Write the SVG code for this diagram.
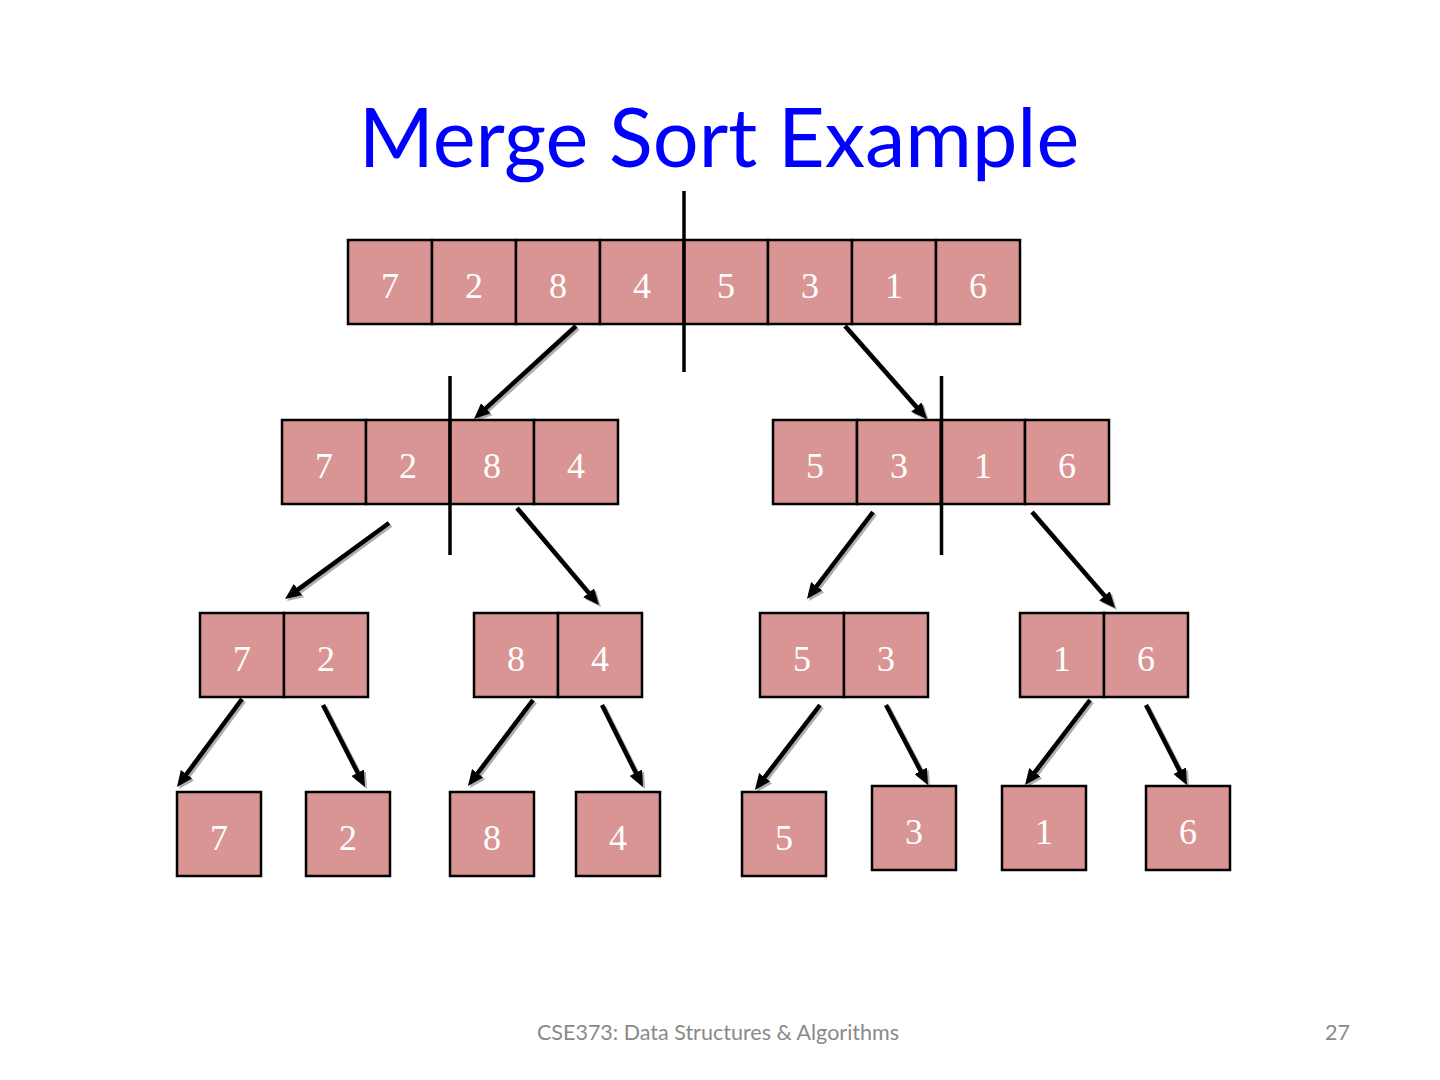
<svg xmlns="http://www.w3.org/2000/svg" width="1440" height="1080" viewBox="0 0 1440 1080">
<defs>
<style>
.cell{fill:#D99594;stroke:#000;stroke-width:2.5}
.num{font-family:"Liberation Serif","Times New Roman",serif;font-size:36px;fill:#fff;text-anchor:middle}
.div{stroke:#000;stroke-width:3.5}
.arr{stroke:#000;stroke-width:4.5;fill:none;marker-end:url(#ah)}
.sh{stroke:#9a9a9a;stroke-width:4.5;fill:none;marker-end:url(#ahs);opacity:0.8}
</style>
<marker id="ah" markerUnits="userSpaceOnUse" viewBox="0 0 16 14" markerWidth="16" markerHeight="14" refX="6" refY="7" orient="auto"><path d="M0,0 L16,7 L0,14 z" fill="#000"/></marker>
<marker id="ahs" markerUnits="userSpaceOnUse" viewBox="0 0 16 14" markerWidth="16" markerHeight="14" refX="6" refY="7" orient="auto"><path d="M0,0 L16,7 L0,14 z" fill="#9a9a9a"/></marker>
</defs>
<rect width="1440" height="1080" fill="#fff"/>
<text id="title" x="719" y="167" font-family="Lato,'Open Sans',sans-serif" font-size="81" fill="#0000FF" text-anchor="middle">Merge Sort Example</text>

<g id="connectors">
<g transform="translate(2,2)">
<line class="sh" x1="576" y1="326" x2="481.4" y2="412.3"/>
<line class="sh" x1="845" y1="326" x2="920.4" y2="411.5"/>
<line class="sh" x1="389" y1="523" x2="293.1" y2="593.1"/>
<line class="sh" x1="517" y1="508" x2="592.5" y2="597.4"/>
<line class="sh" x1="873" y1="512" x2="813.0" y2="591.0"/>
<line class="sh" x1="1032" y1="512" x2="1108.5" y2="600.4"/>
<line class="sh" x1="242" y1="699" x2="182.9" y2="779.0"/>
<line class="sh" x1="323" y1="705" x2="360.4" y2="778.1"/>
<line class="sh" x1="533" y1="700" x2="474.0" y2="778.0"/>
<line class="sh" x1="602" y1="705" x2="638.5" y2="778.1"/>
<line class="sh" x1="820" y1="705" x2="761.0" y2="782.0"/>
<line class="sh" x1="886" y1="705" x2="923.4" y2="776.2"/>
<line class="sh" x1="1090" y1="700" x2="1031.1" y2="777.1"/>
<line class="sh" x1="1146" y1="705" x2="1182.4" y2="776.1"/>
</g>
<line class="arr" x1="576" y1="326" x2="481.4" y2="412.3"/>
<line class="arr" x1="845" y1="326" x2="920.4" y2="411.5"/>
<line class="arr" x1="389" y1="523" x2="293.1" y2="593.1"/>
<line class="arr" x1="517" y1="508" x2="592.5" y2="597.4"/>
<line class="arr" x1="873" y1="512" x2="813.0" y2="591.0"/>
<line class="arr" x1="1032" y1="512" x2="1108.5" y2="600.4"/>
<line class="arr" x1="242" y1="699" x2="182.9" y2="779.0"/>
<line class="arr" x1="323" y1="705" x2="360.4" y2="778.1"/>
<line class="arr" x1="533" y1="700" x2="474.0" y2="778.0"/>
<line class="arr" x1="602" y1="705" x2="638.5" y2="778.1"/>
<line class="arr" x1="820" y1="705" x2="761.0" y2="782.0"/>
<line class="arr" x1="886" y1="705" x2="923.4" y2="776.2"/>
<line class="arr" x1="1090" y1="700" x2="1031.1" y2="777.1"/>
<line class="arr" x1="1146" y1="705" x2="1182.4" y2="776.1"/>
</g>

<g id="level1">
<rect class="cell" x="348" y="240" width="84" height="84"/><text class="num" x="390" y="298">7</text>
<rect class="cell" x="432" y="240" width="84" height="84"/><text class="num" x="474" y="298">2</text>
<rect class="cell" x="516" y="240" width="84" height="84"/><text class="num" x="558" y="298">8</text>
<rect class="cell" x="600" y="240" width="84" height="84"/><text class="num" x="642" y="298">4</text>
<rect class="cell" x="684" y="240" width="84" height="84"/><text class="num" x="726" y="298">5</text>
<rect class="cell" x="768" y="240" width="84" height="84"/><text class="num" x="810" y="298">3</text>
<rect class="cell" x="852" y="240" width="84" height="84"/><text class="num" x="894" y="298">1</text>
<rect class="cell" x="936" y="240" width="84" height="84"/><text class="num" x="978" y="298">6</text>
<line class="div" x1="684" y1="191" x2="684" y2="372"/>
</g>

<g id="level2-left">
<rect class="cell" x="282" y="420" width="84" height="84"/><text class="num" x="324" y="478">7</text>
<rect class="cell" x="366" y="420" width="84" height="84"/><text class="num" x="408" y="478">2</text>
<rect class="cell" x="450" y="420" width="84" height="84"/><text class="num" x="492" y="478">8</text>
<rect class="cell" x="534" y="420" width="84" height="84"/><text class="num" x="576" y="478">4</text>
<line class="div" x1="450" y1="376" x2="450" y2="555"/>
</g>

<g id="level2-right">
<rect class="cell" x="773" y="420" width="84" height="84"/><text class="num" x="815" y="478">5</text>
<rect class="cell" x="857" y="420" width="84" height="84"/><text class="num" x="899" y="478">3</text>
<rect class="cell" x="941" y="420" width="84" height="84"/><text class="num" x="983" y="478">1</text>
<rect class="cell" x="1025" y="420" width="84" height="84"/><text class="num" x="1067" y="478">6</text>
<line class="div" x1="941.5" y1="376" x2="941.5" y2="555"/>
</g>

<g id="level3-72">
<rect class="cell" x="200" y="613" width="84" height="84"/><text class="num" x="242" y="671">7</text>
<rect class="cell" x="284" y="613" width="84" height="84"/><text class="num" x="326" y="671">2</text>
</g>
<g id="level3-84">
<rect class="cell" x="474" y="613" width="84" height="84"/><text class="num" x="516" y="671">8</text>
<rect class="cell" x="558" y="613" width="84" height="84"/><text class="num" x="600" y="671">4</text>
</g>
<g id="level3-53">
<rect class="cell" x="760" y="613" width="84" height="84"/><text class="num" x="802" y="671">5</text>
<rect class="cell" x="844" y="613" width="84" height="84"/><text class="num" x="886" y="671">3</text>
</g>
<g id="level3-16">
<rect class="cell" x="1020" y="613" width="84" height="84"/><text class="num" x="1062" y="671">1</text>
<rect class="cell" x="1104" y="613" width="84" height="84"/><text class="num" x="1146" y="671">6</text>
</g>

<g id="leaf-7"><rect class="cell" x="177" y="792" width="84" height="84"/><text class="num" x="219" y="850">7</text></g>
<g id="leaf-2"><rect class="cell" x="306" y="792" width="84" height="84"/><text class="num" x="348" y="850">2</text></g>
<g id="leaf-8"><rect class="cell" x="450" y="792" width="84" height="84"/><text class="num" x="492" y="850">8</text></g>
<g id="leaf-4"><rect class="cell" x="576" y="792" width="84" height="84"/><text class="num" x="618" y="850">4</text></g>
<g id="leaf-5"><rect class="cell" x="742" y="792" width="84" height="84"/><text class="num" x="784" y="850">5</text></g>
<g id="leaf-3"><rect class="cell" x="872" y="786" width="84" height="84"/><text class="num" x="914" y="844">3</text></g>
<g id="leaf-1"><rect class="cell" x="1002" y="786" width="84" height="84"/><text class="num" x="1044" y="844">1</text></g>
<g id="leaf-6"><rect class="cell" x="1146" y="786" width="84" height="84"/><text class="num" x="1188" y="844">6</text></g>

<text id="footer" x="718" y="1040" font-family="Lato,'Open Sans',sans-serif" font-size="21.5" fill="#898989" text-anchor="middle">CSE373: Data Structures &amp; Algorithms</text>
<text id="page" x="1350" y="1040" font-family="Lato,'Open Sans',sans-serif" font-size="21.5" fill="#898989" text-anchor="end">27</text>
</svg>
